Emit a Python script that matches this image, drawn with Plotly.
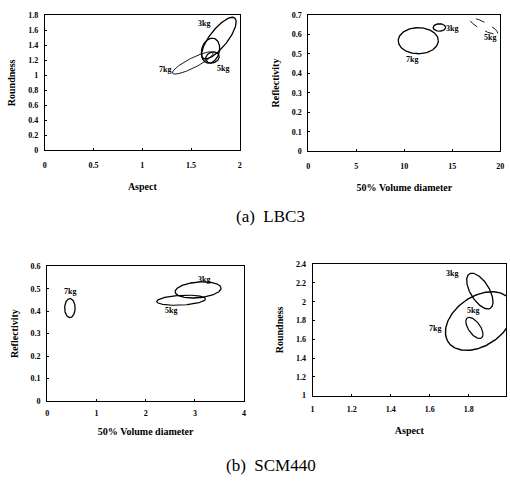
import numpy as np
import plotly.graph_objects as go

W, H = 510, 489

# ---- panel definitions (axis ranges, ticks) ----
x_titles = ["Aspect", "50% Volume diameter", "50% Volume diameter", "Aspect"]
y_titles = ["Roundness", "Reflectivity", "Reflectivity", "Roundness"]
x_ranges = [[0, 2], [0, 20], [0, 4], [1, 1.991]]
y_ranges = [[0, 1.8], [0, 0.7], [0, 0.6], [1, 2.4]]
x_ticks = [[0, 0.5, 1, 1.5, 2], [0, 5, 10, 15, 20], [0, 1, 2, 3, 4], [1, 1.2, 1.4, 1.6, 1.8]]
x_ticklabels = [["0", "0.5", "1", "1.5", "2"], ["0", "5", "10", "15", "20"],
                ["0", "1", "2", "3", "4"], ["1", "1.2", "1.4", "1.6", "1.8"]]
y_ticks = [[0, 0.2, 0.4, 0.6, 0.8, 1, 1.2, 1.4, 1.6, 1.8],
           [0, 0.1, 0.2, 0.3, 0.4, 0.5, 0.6, 0.7],
           [0, 0.1, 0.2, 0.3, 0.4, 0.5, 0.6],
           [1, 1.2, 1.4, 1.6, 1.8, 2, 2.2, 2.4]]
y_ticklabels = [["0", "0.2", "0.4", "0.6", "0.8", "1", "1.2", "1.4", "1.6", "1.8"],
                ["0", "0.1", "0.2", "0.3", "0.4", "0.5", "0.6", "0.7"],
                ["0", "0.1", "0.2", "0.3", "0.4", "0.5", "0.6"],
                ["1", "1.2", "1.4", "1.6", "1.8", "2", "2.2", "2.4"]]

# plot-area pixel boxes (left, right, top, bottom)
boxes = [(43.3, 240.7, 11.7, 149.0), (310.0, 504.3, 11.0, 150.0),
         (45.7, 245.0, 267.3, 404.3), (314.3, 510.0, 265.0, 399.0)]
x_label_gap = [7, 7, 5, 6]
x_title_gap = [14, 14, 10, 13]

# ---- ellipses: panel, label, centre x, centre y, semi-major(px), semi-minor(px), angle(deg), style ----
ell_panel = [0, 0, 0, 0, 1, 1, 1, 2, 2, 2, 3, 3, 3]
ell_name = ["3kg", "7kg", "5kg", "5kg-b", "7kg", "3kg", "5kg", "7kg", "3kg", "5kg", "7kg", "3kg", "5kg"]
ell_cx = [1.785, 1.517, 1.699, 1.719, 11.45, 13.65, 18.26, 0.462, 3.065, 2.72, 1.854, 1.857, 1.829]
ell_cy = [1.498, 1.166, 1.330, 1.239, 0.567, 0.635, 0.642, 0.414, 0.495, 0.449, 1.794, 2.113, 1.721]
ell_a = [26, 23, 13, 7, 20.3, 6.3, 16, 9.7, 23.3, 24.7, 38, 20.5, 12.5]
ell_b = [9, 5, 9, 5.5, 13.3, 3.8, 4, 5.3, 8, 5, 25, 9.5, 6]
ell_ang = [52, 27, 75, 20, 0, 0, -28, 90, 5, 3, 35, -59, -55]
ell_width = [1.3, 0.9, 1.3, 1.2, 1.3, 1.3, 0.9, 1.3, 1.3, 1.2, 1.4, 1.3, 1.2]
ell_dash = ["solid", "solid", "solid", "solid", "solid", "solid", "dash",
            "solid", "solid", "solid", "solid", "solid", "solid"]

# ---- labels ----
lab_panel = [0, 0, 0, 1, 1, 1, 2, 2, 2, 3, 3, 3]
lab_text = ["3kg", "5kg", "7kg", "3kg", "7kg", "5kg", "7kg", "3kg", "5kg", "3kg", "5kg", "7kg"]
lab_x = [1.63, 1.83, 1.23, 14.95, 10.8, 18.96, 0.47, 3.18, 2.51, 1.712, 1.822, 1.628]
lab_y = [1.69, 1.09, 1.08, 0.629, 0.47, 0.583, 0.486, 0.541, 0.404, 2.296, 1.902, 1.711]

captions = ["(a)  LBC3", "(b)  SCM440"]
caption_y_px = [216.5, 470.5]

fig = go.Figure()
layout = dict(width=W, height=H, margin=dict(l=0, r=0, t=0, b=0),
              paper_bgcolor="white", plot_bgcolor="white", showlegend=False)

tickfont = dict(family="Liberation Serif", size=8, color="black")
titlefont = dict(family="Liberation Serif", size=10, color="black")

t = np.linspace(0, 2 * np.pi, 200)
for i in range(4):
    L, R, T, B = boxes[i]
    xa = "xaxis" if i == 0 else f"xaxis{i+1}"
    ya = "yaxis" if i == 0 else f"yaxis{i+1}"
    xr = "x" if i == 0 else f"x{i+1}"
    yr = "y" if i == 0 else f"y{i+1}"
    layout[xa] = dict(domain=[L / W, R / W], range=x_ranges[i], anchor=yr,
                      tickvals=x_ticks[i], ticktext=["<b>%s</b>" % s for s in x_ticklabels[i]],
                      showline=True, mirror=True, linecolor="black", linewidth=1,
                      ticks="inside", ticklen=2, tickcolor="black", showgrid=False,
                      zeroline=False, tickfont=tickfont, ticklabelstandoff=x_label_gap[i],
                      title=dict(text="<b>%s</b>" % x_titles[i], font=titlefont,
                                 standoff=x_title_gap[i]))
    layout[ya] = dict(domain=[1 - B / H, 1 - T / H], range=y_ranges[i], anchor=xr,
                      tickvals=y_ticks[i], ticktext=["<b>%s</b>" % s for s in y_ticklabels[i]],
                      showline=True, mirror=True, linecolor="black", linewidth=1,
                      ticks="inside", ticklen=2, tickcolor="black", showgrid=False,
                      zeroline=False, tickfont=tickfont, ticklabelstandoff=4,
                      title=dict(text="<b>%s</b>" % y_titles[i], font=titlefont, standoff=10))

for j in range(len(ell_panel)):
    p = ell_panel[j]
    L, R, T, B = boxes[p]
    kx = (R - L) / (x_ranges[p][1] - x_ranges[p][0])
    ky = (B - T) / (y_ranges[p][1] - y_ranges[p][0])
    th = np.radians(ell_ang[j])
    a, b = ell_a[j], ell_b[j]
    xs = ell_cx[j] + (a * np.cos(th) * np.cos(t) - b * np.sin(th) * np.sin(t)) / kx
    ys = ell_cy[j] + (a * np.sin(th) * np.cos(t) + b * np.cos(th) * np.sin(t)) / ky
    xr = "x" if p == 0 else f"x{p+1}"
    yr = "y" if p == 0 else f"y{p+1}"
    fig.add_trace(go.Scatter(x=xs, y=ys, mode="lines", xaxis=xr, yaxis=yr,
                             line=dict(color="black", width=ell_width[j], dash=ell_dash[j]),
                             hoverinfo="skip", cliponaxis=True))

annotations = []
for k in range(len(lab_panel)):
    p = lab_panel[k]
    xr = "x" if p == 0 else f"x{p+1}"
    yr = "y" if p == 0 else f"y{p+1}"
    annotations.append(dict(x=lab_x[k], y=lab_y[k], xref=xr, yref=yr, text="<b>%s</b>" % lab_text[k],
                            showarrow=False, font=dict(family="Liberation Serif", size=8, color="black")))
for c, cy in zip(captions, caption_y_px):
    annotations.append(dict(x=272 / W, y=1 - cy / H, xref="paper", yref="paper", text=c,
                            xanchor="center", yanchor="middle", showarrow=False,
                            font=dict(family="Liberation Serif", size=17, color="black")))
layout["annotations"] = annotations

fig.update_layout(**layout)
fig.write_html("out.html")
